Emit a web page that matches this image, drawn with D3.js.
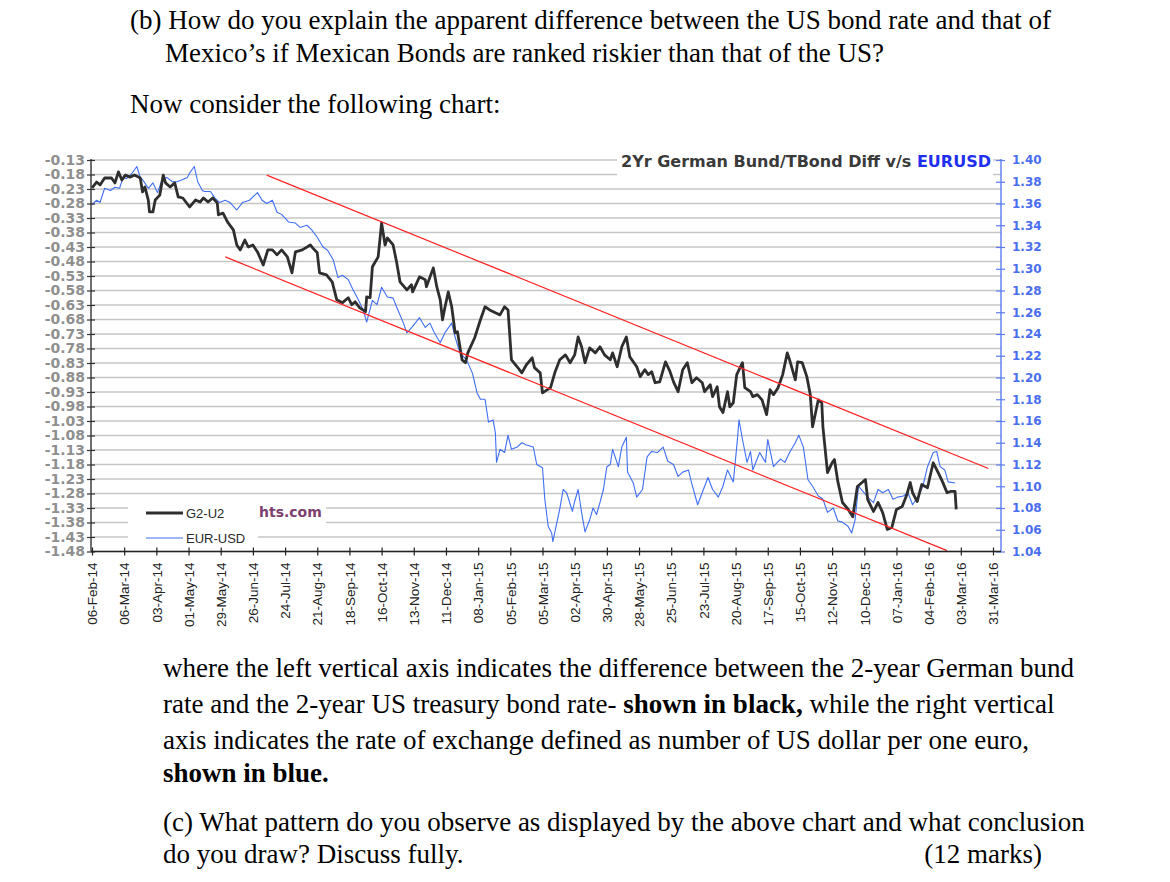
<!DOCTYPE html>
<html>
<head>
<meta charset="utf-8">
<script src="https://cdn.jsdelivr.net/npm/d3@7"></script>
<style>
  html, body { margin: 0; padding: 0; background: #fff; }
  svg { display: block; }
</style>
</head>
<body>
<svg id="chart" width="1170" height="882"></svg>
<script>
// ---------------- DATA ----------------
const xTickLabels = ["06-Feb-14","06-Mar-14","03-Apr-14","01-May-14","29-May-14","26-Jun-14","24-Jul-14","21-Aug-14","18-Sep-14","16-Oct-14","13-Nov-14","11-Dec-14","08-Jan-15","05-Feb-15","05-Mar-15","02-Apr-15","30-Apr-15","28-May-15","25-Jun-15","23-Jul-15","20-Aug-15","17-Sep-15","15-Oct-15","12-Nov-15","10-Dec-15","07-Jan-16","04-Feb-16","03-Mar-16","31-Mar-16"];
const leftTickLabels = ["-0.13","-0.18","-0.23","-0.28","-0.33","-0.38","-0.43","-0.48","-0.53","-0.58","-0.63","-0.68","-0.73","-0.78","-0.83","-0.88","-0.93","-0.98","-1.03","-1.08","-1.13","-1.18","-1.23","-1.28","-1.33","-1.38","-1.43","-1.48"];
const rightTickLabels = ["1.40","1.38","1.36","1.34","1.32","1.30","1.28","1.26","1.24","1.22","1.20","1.18","1.16","1.14","1.12","1.10","1.08","1.06","1.04"];

// G2-U2 : 2yr German Bund minus 2yr US Treasury (left axis)
const g2u2 = [
["2014-02-06",-0.226],["2014-02-10",-0.206],["2014-02-13",-0.216],["2014-02-17",-0.192],["2014-02-23",-0.192],
["2014-02-26",-0.209],["2014-03-01",-0.171],["2014-03-04",-0.199],["2014-03-07",-0.182],["2014-03-11",-0.189],
["2014-03-15",-0.182],["2014-03-20",-0.192],["2014-03-22",-0.240],["2014-03-24",-0.223],["2014-03-27",-0.268],
["2014-03-28",-0.309],["2014-03-31",-0.309],["2014-04-02",-0.268],["2014-04-06",-0.251],["2014-04-09",-0.182],
["2014-04-11",-0.209],["2014-04-15",-0.223],["2014-04-19",-0.209],["2014-04-22",-0.257],["2014-04-26",-0.261],
["2014-05-02",-0.292],["2014-05-07",-0.268],["2014-05-11",-0.275],["2014-05-14",-0.261],["2014-05-18",-0.275],
["2014-05-22",-0.261],["2014-05-26",-0.278],["2014-05-27",-0.319],["2014-05-31",-0.313],["2014-06-04",-0.344],
["2014-06-09",-0.371],["2014-06-12",-0.423],["2014-06-15",-0.440],["2014-06-19",-0.406],["2014-06-22",-0.430],
["2014-06-26",-0.423],["2014-06-30",-0.447],["2014-07-05",-0.492],["2014-07-09",-0.440],["2014-07-13",-0.440],
["2014-07-17",-0.457],["2014-07-21",-0.440],["2014-07-26",-0.464],["2014-07-30",-0.519],["2014-08-02",-0.447],
["2014-08-08",-0.440],["2014-08-15",-0.423],["2014-08-17",-0.433],["2014-08-21",-0.450],["2014-08-23",-0.519],
["2014-08-29",-0.526],["2014-09-03",-0.550],["2014-09-07",-0.612],["2014-09-12",-0.622],["2014-09-17",-0.605],
["2014-09-20",-0.629],["2014-09-23",-0.619],["2014-09-27",-0.640],["2014-10-02",-0.653],["2014-10-03",-0.602],
["2014-10-06",-0.605],["2014-10-08",-0.498],["2014-10-13",-0.464],["2014-10-16",-0.347],["2014-10-19",-0.423],
["2014-10-21",-0.399],["2014-10-26",-0.423],["2014-10-29",-0.481],["2014-11-01",-0.550],["2014-11-07",-0.578],
["2014-11-11",-0.560],["2014-11-12",-0.585],["2014-11-18",-0.533],["2014-11-23",-0.543],["2014-11-24",-0.567],
["2014-11-30",-0.502],["2014-12-03",-0.567],["2014-12-06",-0.612],["2014-12-08",-0.681],["2014-12-10",-0.640],
["2014-12-13",-0.585],["2014-12-16",-0.636],["2014-12-19",-0.726],["2014-12-21",-0.722],["2014-12-25",-0.819],
["2014-12-28",-0.829],["2014-12-30",-0.795],["2015-01-05",-0.743],["2015-01-10",-0.681],["2015-01-14",-0.636],
["2015-01-18",-0.647],["2015-01-23",-0.657],["2015-01-27",-0.664],["2015-01-31",-0.636],["2015-02-03",-0.647],
["2015-02-06",-0.819],["2015-02-11",-0.843],["2015-02-15",-0.864],["2015-02-19",-0.836],["2015-02-24",-0.812],
["2015-02-26",-0.846],["2015-03-03",-0.864],["2015-03-05",-0.933],["2015-03-12",-0.915],["2015-03-16",-0.860],
["2015-03-20",-0.819],["2015-03-25",-0.802],["2015-03-29",-0.829],["2015-04-02",-0.802],["2015-04-05",-0.740],
["2015-04-08",-0.774],["2015-04-11",-0.829],["2015-04-15",-0.778],["2015-04-20",-0.795],["2015-04-24",-0.774],
["2015-04-28",-0.802],["2015-05-03",-0.819],["2015-05-05",-0.795],["2015-05-09",-0.843],["2015-05-13",-0.774],
["2015-05-17",-0.740],["2015-05-20",-0.809],["2015-05-26",-0.843],["2015-05-29",-0.877],["2015-06-02",-0.853],
["2015-06-05",-0.870],["2015-06-08",-0.860],["2015-06-11",-0.898],["2015-06-15",-0.895],["2015-06-20",-0.826],
["2015-06-24",-0.860],["2015-06-27",-0.895],["2015-07-01",-0.929],["2015-07-05",-0.853],["2015-07-09",-0.829],
["2015-07-13",-0.898],["2015-07-17",-0.881],["2015-07-22",-0.898],["2015-07-24",-0.929],["2015-07-29",-0.905],
["2015-07-31",-0.946],["2015-08-04",-0.912],["2015-08-06",-0.981],["2015-08-09",-1.001],["2015-08-13",-0.929],
["2015-08-15",-0.981],["2015-08-18",-0.967],["2015-08-21",-0.870],["2015-08-26",-0.829],["2015-08-28",-0.915],
["2015-09-02",-0.929],["2015-09-04",-0.946],["2015-09-08",-0.939],["2015-09-12",-0.957],["2015-09-16",-1.008],
["2015-09-19",-0.922],["2015-09-22",-0.939],["2015-09-26",-0.915],["2015-09-30",-0.870],["2015-10-04",-0.795],
["2015-10-06",-0.819],["2015-10-11",-0.888],["2015-10-13",-0.826],["2015-10-17",-0.829],["2015-10-21",-0.877],
["2015-10-24",-0.939],["2015-10-26",-1.050],["2015-10-31",-0.957],["2015-11-03",-0.967],["2015-11-04",-1.050],
["2015-11-08",-1.208],["2015-11-12",-1.174],["2015-11-14",-1.163],["2015-11-17",-1.239],["2015-11-21",-1.311],
["2015-11-26",-1.335],["2015-11-30",-1.360],["2015-12-04",-1.256],["2015-12-08",-1.242],["2015-12-11",-1.232],
["2015-12-13",-1.301],["2015-12-18",-1.342],["2015-12-22",-1.311],["2015-12-26",-1.346],["2015-12-30",-1.404],
["2016-01-03",-1.397],["2016-01-07",-1.335],["2016-01-12",-1.325],["2016-01-16",-1.284],["2016-01-19",-1.242],
["2016-01-21",-1.277],["2016-01-25",-1.308],["2016-01-29",-1.249],["2016-02-03",-1.260],["2016-02-05",-1.225],
["2016-02-08",-1.174],["2016-02-11",-1.198],["2016-02-14",-1.222],["2016-02-16",-1.239],["2016-02-20",-1.277],
["2016-02-23",-1.273],["2016-02-27",-1.273],["2016-02-28",-1.335]
];

// EUR-USD exchange rate (right axis)
const eurusd = [
["2014-02-06",1.359],["2014-02-10",1.363],["2014-02-13",1.361],["2014-02-17",1.374],["2014-02-22",1.372],
["2014-02-26",1.375],["2014-03-02",1.374],["2014-03-05",1.384],["2014-03-08",1.383],["2014-03-13",1.388],
["2014-03-17",1.394],["2014-03-20",1.384],["2014-03-22",1.382],["2014-03-27",1.374],["2014-03-31",1.379],
["2014-04-04",1.370],["2014-04-08",1.382],["2014-04-12",1.384],["2014-04-17",1.380],["2014-04-21",1.380],
["2014-04-26",1.382],["2014-04-30",1.384],["2014-05-02",1.388],["2014-05-06",1.394],["2014-05-09",1.380],
["2014-05-13",1.372],["2014-05-15",1.371],["2014-05-20",1.371],["2014-05-24",1.365],["2014-05-28",1.361],
["2014-06-02",1.363],["2014-06-06",1.361],["2014-06-12",1.354],["2014-06-17",1.361],["2014-06-23",1.363],
["2014-06-30",1.370],["2014-07-04",1.363],["2014-07-08",1.360],["2014-07-13",1.363],["2014-07-17",1.352],
["2014-07-21",1.350],["2014-07-27",1.343],["2014-08-02",1.342],["2014-08-06",1.338],["2014-08-12",1.340],
["2014-08-16",1.336],["2014-08-21",1.329],["2014-08-26",1.320],["2014-08-30",1.317],["2014-09-04",1.308],
["2014-09-08",1.292],["2014-09-12",1.294],["2014-09-17",1.290],["2014-09-21",1.281],["2014-09-25",1.273],
["2014-09-30",1.262],["2014-10-03",1.251],["2014-10-08",1.271],["2014-10-12",1.267],["2014-10-16",1.283],
["2014-10-21",1.274],["2014-10-26",1.273],["2014-10-29",1.265],["2014-11-04",1.250],["2014-11-07",1.241],
["2014-11-12",1.247],["2014-11-18",1.255],["2014-11-23",1.246],["2014-11-27",1.250],["2014-12-01",1.241],
["2014-12-06",1.232],["2014-12-10",1.241],["2014-12-16",1.250],["2014-12-19",1.237],["2014-12-23",1.223],
["2014-12-29",1.216],["2015-01-03",1.204],["2015-01-07",1.186],["2015-01-10",1.180],["2015-01-14",1.180],
["2015-01-17",1.159],["2015-01-21",1.161],["2015-01-23",1.149],["2015-01-24",1.122],["2015-01-27",1.134],
["2015-01-31",1.131],["2015-02-03",1.147],["2015-02-06",1.134],["2015-02-11",1.136],["2015-02-15",1.140],
["2015-02-19",1.138],["2015-02-25",1.136],["2015-02-28",1.120],["2015-03-05",1.117],["2015-03-07",1.088],
["2015-03-10",1.063],["2015-03-13",1.057],["2015-03-14",1.049],["2015-03-18",1.069],["2015-03-20",1.079],
["2015-03-23",1.097],["2015-03-26",1.094],["2015-03-31",1.077],["2015-04-02",1.086],["2015-04-05",1.097],
["2015-04-08",1.076],["2015-04-11",1.058],["2015-04-15",1.069],["2015-04-18",1.080],["2015-04-21",1.074],
["2015-04-24",1.085],["2015-04-27",1.097],["2015-04-30",1.118],["2015-05-03",1.120],["2015-05-05",1.134],
["2015-05-10",1.118],["2015-05-13",1.136],["2015-05-17",1.145],["2015-05-18",1.113],["2015-05-23",1.103],
["2015-05-26",1.090],["2015-05-31",1.097],["2015-06-04",1.127],["2015-06-08",1.132],["2015-06-13",1.131],
["2015-06-18",1.136],["2015-06-22",1.123],["2015-06-27",1.120],["2015-07-01",1.109],["2015-07-05",1.113],
["2015-07-10",1.115],["2015-07-13",1.102],["2015-07-18",1.083],["2015-07-23",1.097],["2015-07-27",1.108],
["2015-07-31",1.097],["2015-08-05",1.090],["2015-08-09",1.100],["2015-08-13",1.115],["2015-08-18",1.104],
["2015-08-21",1.136],["2015-08-23",1.161],["2015-08-26",1.143],["2015-08-30",1.122],["2015-09-02",1.132],
["2015-09-04",1.115],["2015-09-10",1.131],["2015-09-15",1.122],["2015-09-17",1.143],["2015-09-22",1.118],
["2015-09-28",1.125],["2015-10-02",1.122],["2015-10-06",1.131],["2015-10-11",1.140],["2015-10-14",1.147],
["2015-10-18",1.136],["2015-10-22",1.106],["2015-10-26",1.100],["2015-10-31",1.091],["2015-11-04",1.088],
["2015-11-08",1.076],["2015-11-13",1.080],["2015-11-17",1.068],["2015-11-21",1.067],["2015-11-26",1.063],
["2015-11-29",1.057],["2015-12-02",1.069],["2015-12-05",1.100],["2015-12-09",1.095],["2015-12-13",1.090],
["2015-12-18",1.085],["2015-12-22",1.097],["2015-12-26",1.094],["2015-12-31",1.097],["2016-01-04",1.088],
["2016-01-08",1.090],["2016-01-13",1.091],["2016-01-17",1.094],["2016-01-21",1.083],["2016-01-26",1.091],
["2016-01-30",1.100],["2016-02-03",1.118],["2016-02-08",1.131],["2016-02-11",1.132],["2016-02-14",1.118],
["2016-02-18",1.115],["2016-02-21",1.104],["2016-02-27",1.103]
];

// Red channel trend lines (in left-axis units)
const upperTrend = [["2014-07-08",-0.182],["2016-03-27",-1.194]];
const lowerTrend = [["2014-06-02",-0.464],["2016-02-20",-1.477]];

const legendItems = ["G2-U2","EUR-USD"];
const chartTitle = "2Yr German Bund/TBond Diff v/s ";
const chartTitleBlue = "EURUSD";

// ---------------- DRAW ----------------
const svg = d3.select("#chart");
svg.append("rect").attr("width",1170).attr("height",882).attr("fill","#fff");

const parseD = d3.utcParse("%Y-%m-%d");
const parseTick = d3.utcParse("%d-%b-%y");
const tickDates = xTickLabels.map(parseTick);

const X0 = 91, X1 = 1001, YT = 160, YB = 551.5;
const x = d3.scaleUtc().domain([tickDates[0], tickDates[tickDates.length-1]]).range([92, 993]);
const yL = d3.scaleLinear().domain([-1.48, -0.13]).range([YB, YT]);
const yR = d3.scaleLinear().domain([1.04, 1.40]).range([YB, YT]);

const leftVals = leftTickLabels.map(Number);
const rightVals = rightTickLabels.map(Number);

// ---- Question text ----
const serif = "'Liberation Serif','Times New Roman',serif";
const qText = svg.append("g").attr("font-family", serif).attr("font-size", 27).attr("fill", "#000");
function line(xp, yp, parts, opts) {
  const t = qText.append("text").attr("x", xp).attr("y", yp);
  if (opts && opts.anchor) t.attr("text-anchor", opts.anchor);
  parts.forEach(p => {
    const s = t.append("tspan").text(p[0]);
    if (p[1]) s.attr("font-weight", "bold");
  });
  return t;
}
line(130, 29, [["(b) How do you explain the apparent difference between the US bond rate and that of"]]);
line(165, 62, [["Mexico\u2019s if Mexican Bonds are ranked riskier than that of the US?"]]);
line(130, 113, [["Now consider the following chart:"]]);
line(163, 677, [["where the left vertical axis indicates the difference between the 2-year German bund"]]);
line(163, 713, [["rate and the 2-year US treasury bond rate- "],["shown in black,",true],[" while the right vertical"]]);
line(163, 749, [["axis indicates the rate of exchange defined as number of US dollar per one euro,"]]);
line(163, 782, [["shown in blue.",true]]);
line(163, 831, [["(c) What pattern do you observe as displayed by the above chart and what conclusion"]]);
line(163, 863, [["do you draw? Discuss fully."]]);
line(1042, 863, [["(12 marks)"]], {anchor:"end"});

// ---- Chart ----
const g = svg.append("g");

// gridlines
g.append("g").selectAll("line").data(leftVals).join("line")
  .attr("x1", X0).attr("x2", X1)
  .attr("y1", d => yL(d)).attr("y2", d => yL(d))
  .attr("stroke", "#c6c6c6").attr("stroke-width", 1.6);

// white boxes behind title and legend
g.append("rect").attr("x", 617).attr("y", 150).attr("width", 376).attr("height", 30).attr("fill", "#fff");
g.append("rect").attr("x", 128).attr("y", 498).attr("width", 130).attr("height", 47).attr("fill", "#fff");
g.append("rect").attr("x", 258).attr("y", 498).attr("width", 68).attr("height", 32).attr("fill", "#fff");

// series
const lineL = d3.line().x(d => x(parseD(d[0]))).y(d => yL(d[1]));
const lineR = d3.line().x(d => x(parseD(d[0]))).y(d => yR(d[1]));

g.append("path").datum(eurusd).attr("d", lineR)
  .attr("fill", "none").attr("stroke", "#3f6ff2").attr("stroke-width", 1.1).attr("stroke-linejoin", "round");
g.append("path").datum(g2u2).attr("d", lineL)
  .attr("fill", "none").attr("stroke", "#2e2e2e").attr("stroke-width", 2.8).attr("stroke-linejoin", "round");

[upperTrend, lowerTrend].forEach(t => {
  g.append("path").datum(t).attr("d", lineL)
    .attr("fill", "none").attr("stroke", "#f22").attr("stroke-width", 1.2);
});

// left axis
const axL = g.append("g").attr("transform", `translate(${X0},0)`)
  .call(d3.axisLeft(yL).tickValues(leftVals).tickFormat((d,i) => leftTickLabels[i]).tickSize(4));
axL.select(".domain").remove();
axL.selectAll(".tick line").attr("x1", -4).attr("x2", 4).attr("stroke", "#333").attr("stroke-width", 1.2);
axL.selectAll(".tick text").attr("x", -6).attr("font-family", "'DejaVu Sans',Verdana,sans-serif")
  .attr("font-weight", "bold").attr("font-size", 14).attr("fill", "#8f8f8f");
g.append("line").attr("x1", X0).attr("x2", X0).attr("y1", YT - 1).attr("y2", YB)
  .attr("stroke", "#333").attr("stroke-width", 1.4);

// right axis
const axR = g.append("g").attr("transform", `translate(${X1},0)`)
  .call(d3.axisRight(yR).tickValues(rightVals).tickFormat((d,i) => rightTickLabels[i]).tickSize(4));
axR.select(".domain").remove();
axR.selectAll(".tick line").attr("x1", -5).attr("x2", 4).attr("stroke", "#5b7df0").attr("stroke-width", 1.2);
axR.selectAll(".tick text").attr("x", 11).attr("font-family", "'DejaVu Sans',Verdana,sans-serif")
  .attr("font-weight", "bold").attr("font-size", 12).attr("fill", "#4a6ef0");
g.append("line").attr("x1", X1).attr("x2", X1).attr("y1", YT - 1).attr("y2", YB)
  .attr("stroke", "#5b7df0").attr("stroke-width", 1.4);

// bottom axis
const axB = g.append("g").attr("transform", `translate(0,${YB})`)
  .call(d3.axisBottom(x).tickValues(tickDates).tickFormat((d,i) => xTickLabels[i]).tickSize(4));
axB.select(".domain").remove();
axB.selectAll(".tick line").attr("y1", -4).attr("y2", 4).attr("stroke", "#222").attr("stroke-width", 1.2);
axB.selectAll(".tick text")
  .attr("font-family", "'Liberation Sans',Arial,sans-serif").attr("font-size", 13.5).attr("fill", "#222")
  .attr("text-anchor", "end").attr("transform", "rotate(-90)")
  .attr("x", -11).attr("y", 0).attr("dy", "0.35em");
g.append("line").attr("x1", X0).attr("x2", X1).attr("y1", YB).attr("y2", YB)
  .attr("stroke", "#222").attr("stroke-width", 1.4);

// title
const title = g.append("text").attr("x", 621).attr("y", 167)
  .attr("font-family", "'DejaVu Sans',Verdana,sans-serif").attr("font-weight", "bold").attr("font-size", 16)
  .attr("fill", "#3a3a3a");
title.append("tspan").text(chartTitle);
title.append("tspan").attr("fill", "#1f2ff0").text(chartTitleBlue);

// legend
const leg = g.append("g");
leg.append("line").attr("x1", 146).attr("x2", 183).attr("y1", 513).attr("y2", 513).attr("stroke", "#2e2e2e").attr("stroke-width", 2.8);
leg.append("line").attr("x1", 146).attr("x2", 183).attr("y1", 538).attr("y2", 538).attr("stroke", "#3f6ff2").attr("stroke-width", 1.1);
leg.selectAll("text").data(legendItems).join("text")
  .attr("x", 186).attr("y", (d,i) => 518 + i*25)
  .attr("font-family", "'Liberation Sans',Arial,sans-serif").attr("font-size", 13).attr("fill", "#2a2a2a")
  .text(d => d);
g.append("text").attr("x", 259).attr("y", 517)
  .attr("font-family", "'DejaVu Sans',Verdana,sans-serif").attr("font-weight", "bold").attr("font-size", 14)
  .attr("fill", "#7d3f6f").text("hts.com");
</script>
</body>
</html>
